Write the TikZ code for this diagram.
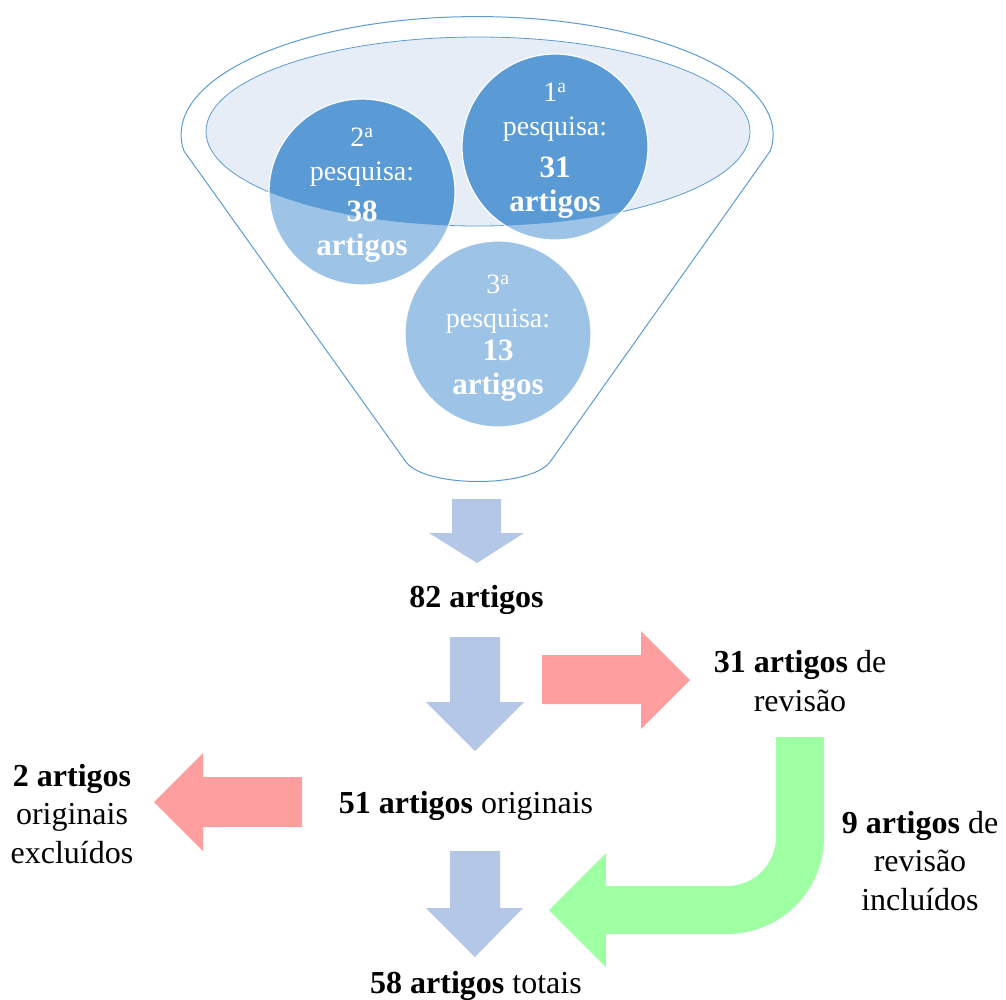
\documentclass[tikz,border=0pt]{standalone}
\usepackage{fontspec}
\setmainfont{Liberation Serif}
\definecolor{fundark}{RGB}{91,155,213}
\definecolor{funlight}{RGB}{157,195,230}
\definecolor{funpale}{RGB}{230,237,247}
\definecolor{arrblue}{RGB}{180,199,231}
\definecolor{arrred}{RGB}{255,158,158}
\definecolor{arrgreen}{RGB}{159,255,163}
\begin{document}
\begin{tikzpicture}[x=1pt,y=-1pt,
  lbl/.style={font=\fontsize{32}{38.5}\selectfont, inner sep=0pt, align=center},
  ctxt/.style={text=white, inner sep=0pt, align=center, font=\fontsize{28}{34}\selectfont},
  blockblue/.style={fill=arrblue},
  blockred/.style={fill=arrred},
  blockgreen/.style={fill=arrgreen},
  outline/.style={draw=fundark, line width=1pt}]
\useasboundingbox (0,0) rectangle (1006,999);

% funnel outline
\draw[outline] (406,462) -- (184,151)
  arc[start angle=172, end angle=368, x radius=296, y radius=118]
  -- (550,462) .. controls (530,488) and (426,488) .. (406,462);

% inner ellipse
\filldraw[fill=funpale, draw=fundark, line width=0.8pt] (478,131.5) ellipse[x radius=272, y radius=94.5];

% circles
\coordinate (c1) at (555,147);
\coordinate (c2) at (362,192);
\coordinate (c3) at (498,334);
\fill[funlight] (c1) circle[radius=93];
\fill[funlight] (c2) circle[radius=93];
\fill[funlight] (c3) circle[radius=93];
\begin{scope}
  \clip (478,131.5) ellipse[x radius=272, y radius=94.5];
  \fill[fundark] (c1) circle[radius=93];
  \fill[fundark] (c2) circle[radius=93];
\end{scope}
\draw[white, line width=1.2pt] (c1) circle[radius=93];
\draw[white, line width=1.2pt] (c2) circle[radius=93];
\draw[white, line width=1.2pt] (c3) circle[radius=93];

\node[ctxt] (t1) at (555,151) {1\textsuperscript{a}\\pesquisa:\\[8pt]\bfseries\fontsize{31}{34}\selectfont 31\\\bfseries\fontsize{31}{34}\selectfont artigos};
\node[ctxt] (t2) at (362,195) {2\textsuperscript{a}\\pesquisa:\\[7pt]\bfseries\fontsize{31}{34}\selectfont 38\\\bfseries\fontsize{31}{34}\selectfont artigos};
\node[ctxt] (t3) at (498,338) {3\textsuperscript{a}\\pesquisa:\\[-1pt]\bfseries\fontsize{31}{34}\selectfont 13\\\bfseries\fontsize{31}{34}\selectfont artigos};

% blue down arrows
\fill[blockblue] (452,499) -- (501,499) -- (501,533) -- (524,533) -- (477,563) -- (429,533) -- (452,533) -- cycle;
\fill[blockblue] (450,637) -- (500,637) -- (500,702) -- (524,702) -- (475,751) -- (426,702) -- (450,702) -- cycle;
\fill[blockblue] (450,851) -- (500,851) -- (500,908) -- (523,908) -- (475,957) -- (426,908) -- (450,908) -- cycle;

% red arrows
\fill[blockred] (542,655) -- (641,655) -- (641,631) -- (690,680) -- (641,729) -- (641,704) -- (542,704) -- cycle;
\fill[blockred] (302,777) -- (203,777) -- (203,753) -- (154,802) -- (203,851) -- (203,827) -- (302,827) -- cycle;

% green bent arrow
\fill[blockgreen] (777,737) -- (824,737) -- (824,837)
  arc[start angle=0, end angle=90, radius=97]
  -- (606,934) -- (606,967) -- (549,910) -- (606,853) -- (606,886) -- (727,886)
  arc[start angle=90, end angle=0, radius=49] -- (776,737) -- cycle;

% labels
\node[lbl, anchor=base] (n82) at (476.5,607) {\textbf{82 artigos}};
\node[lbl] (n31) at (800,681) {\textbf{31 artigos} de\\revisão};
\node[lbl, anchor=base] (n51) at (466,813) {\textbf{51 artigos} originais};
\node[lbl] (n2) at (72,814) {\textbf{2 artigos}\\originais\\excluídos};
\node[lbl] (n9) at (920,861) {\textbf{9 artigos} de\\revisão\\incluídos};
\node[lbl, anchor=base] (n58) at (476,993) {\textbf{58 artigos} totais};
\end{tikzpicture}
\end{document}
